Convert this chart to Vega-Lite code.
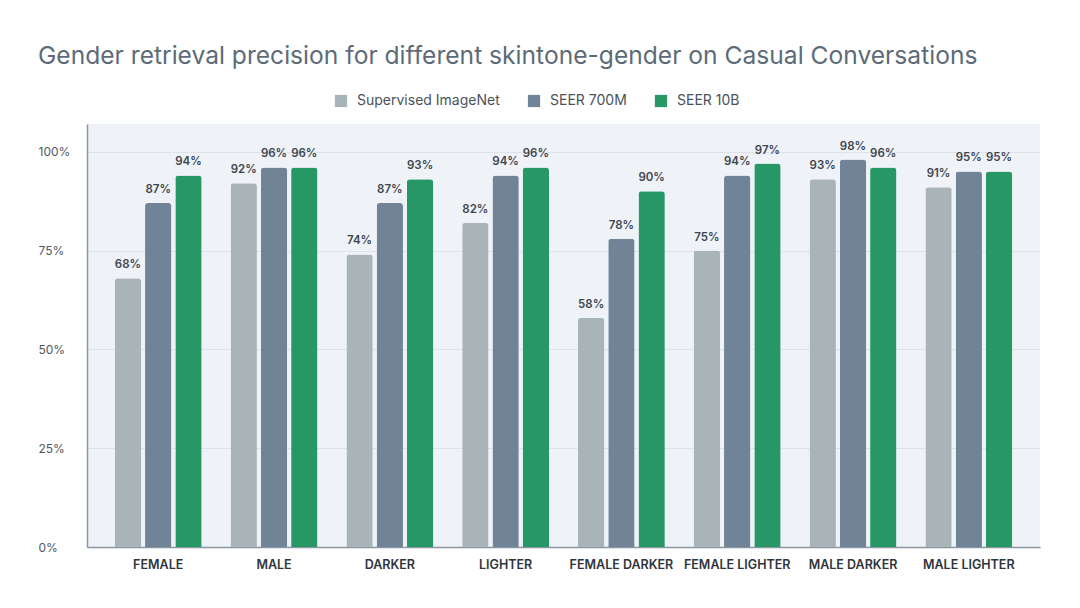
{
  "$schema": "https://vega.github.io/schema/vega-lite/v6.json",
  "autosize": "none",
  "width": 953,
  "height": 423,
  "padding": {"left": 87, "top": 124, "right": 40, "bottom": 61},
  "background": "#ffffff",
  "title": {
    "text": "Gender retrieval precision for different skintone-gender on Casual Conversations",
    "anchor": "start",
    "dx": 0,
    "offset": 24,
    "font": "Inter",
    "fontSize": 24.6,
    "fontWeight": "normal",
    "color": "#5d6b78"
  },
  "config": {
    "font": "Inter",
    "view": {"fill": "#eff3f7", "stroke": null},
    "axis": {"labelFont": "Inter"},
    "legend": {"labelFont": "Inter"}
  },
  "data": {
    "values": [
      {"group": "FEMALE", "model": "Supervised ImageNet", "value": 0.68},
      {"group": "FEMALE", "model": "SEER 700M", "value": 0.87},
      {"group": "FEMALE", "model": "SEER 10B", "value": 0.94},
      {"group": "MALE", "model": "Supervised ImageNet", "value": 0.92},
      {"group": "MALE", "model": "SEER 700M", "value": 0.96},
      {"group": "MALE", "model": "SEER 10B", "value": 0.96},
      {"group": "DARKER", "model": "Supervised ImageNet", "value": 0.74},
      {"group": "DARKER", "model": "SEER 700M", "value": 0.87},
      {"group": "DARKER", "model": "SEER 10B", "value": 0.93},
      {"group": "LIGHTER", "model": "Supervised ImageNet", "value": 0.82},
      {"group": "LIGHTER", "model": "SEER 700M", "value": 0.94},
      {"group": "LIGHTER", "model": "SEER 10B", "value": 0.96},
      {"group": "FEMALE DARKER", "model": "Supervised ImageNet", "value": 0.58},
      {"group": "FEMALE DARKER", "model": "SEER 700M", "value": 0.78},
      {"group": "FEMALE DARKER", "model": "SEER 10B", "value": 0.90},
      {"group": "FEMALE LIGHTER", "model": "Supervised ImageNet", "value": 0.75},
      {"group": "FEMALE LIGHTER", "model": "SEER 700M", "value": 0.94},
      {"group": "FEMALE LIGHTER", "model": "SEER 10B", "value": 0.97},
      {"group": "MALE DARKER", "model": "Supervised ImageNet", "value": 0.93},
      {"group": "MALE DARKER", "model": "SEER 700M", "value": 0.98},
      {"group": "MALE DARKER", "model": "SEER 10B", "value": 0.96},
      {"group": "MALE LIGHTER", "model": "Supervised ImageNet", "value": 0.91},
      {"group": "MALE LIGHTER", "model": "SEER 700M", "value": 0.95},
      {"group": "MALE LIGHTER", "model": "SEER 10B", "value": 0.95}
    ]
  },
  "encoding": {
    "x": {
      "field": "group",
      "type": "nominal",
      "sort": null,
      "scale": {"paddingInner": 0.25, "paddingOuter": 0.24},
      "axis": {
        "title": null,
        "labelAngle": 0,
        "labelFontSize": 12.5,
        "labelFontWeight": 600,
        "labelColor": "#2e353c",
        "labelPadding": 11,
        "ticks": false,
        "domainColor": "#8a96a2",
        "domainWidth": 1.5,
        "grid": false
      }
    },
    "xOffset": {
      "field": "model",
      "sort": ["Supervised ImageNet", "SEER 700M", "SEER 10B"],
      "scale": {"paddingInner": 0.13}
    },
    "y": {
      "field": "value",
      "type": "quantitative",
      "scale": {"domain": [0, 1.07], "nice": false},
      "axis": {
        "title": null,
        "values": [0, 0.25, 0.5, 0.75, 1],
        "format": ".0%",
        "labelAlign": "left",
        "labelPadding": 49,
        "labelFontSize": 12,
        "labelColor": "#4f5861",
        "tickSize": 0,
        "domainColor": "#8a96a2",
        "domainWidth": 1.5,
        "gridColor": "#dde3e8",
        "gridWidth": 1
      }
    }
  },
  "layer": [
    {
      "mark": {"type": "bar", "cornerRadiusTopLeft": 3, "cornerRadiusTopRight": 3},
      "encoding": {
        "color": {
          "field": "model",
          "type": "nominal",
          "sort": ["Supervised ImageNet", "SEER 700M", "SEER 10B"],
          "scale": {
            "domain": ["Supervised ImageNet", "SEER 700M", "SEER 10B"],
            "range": ["#a8b4b7", "#718396", "#289766"]
          },
          "legend": {
            "title": null,
            "orient": "none",
            "direction": "horizontal",
            "legendX": 247,
            "legendY": -30,
            "symbolType": "square",
            "symbolSize": 150,
            "symbolStrokeWidth": 0,
            "symbolOpacity": 1,
            "labelFontSize": 14,
            "labelColor": "#4a525a",
            "labelOffset": 9,
            "columnPadding": 27,
            "padding": 0
          }
        }
      }
    },
    {
      "mark": {"type": "text", "baseline": "bottom", "dy": -8, "fontSize": 11.5, "fontWeight": 600, "color": "#3d4650"},
      "encoding": {
        "text": {"field": "value", "type": "quantitative", "format": ".0%"}
      }
    }
  ]
}
